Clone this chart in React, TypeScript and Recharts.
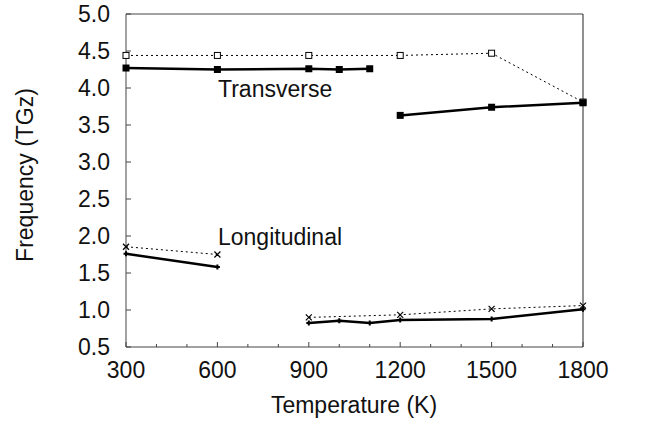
import React from "react";
import { Line, LineChart, XAxis, YAxis } from "recharts";

// temperatures (K) and frequencies (TGz)
const transverseUpperT = [300, 600, 900, 1200, 1500, 1800];
const transverseUpperF = [4.44, 4.44, 4.44, 4.44, 4.47, 3.81];

const transverseLowT1 = [300, 600, 900, 1000, 1100];
const transverseLowF1 = [4.27, 4.25, 4.26, 4.25, 4.26];
const transverseLowT2 = [1200, 1500, 1800];
const transverseLowF2 = [3.63, 3.74, 3.8];

const longUpperT1 = [300, 600];
const longUpperF1 = [1.855, 1.75];
const longUpperT2 = [900, 1200, 1500, 1800];
const longUpperF2 = [0.9, 0.935, 1.015, 1.06];

const longLowT1 = [300, 600];
const longLowF1 = [1.76, 1.58];
const longLowT2 = [900, 1000, 1100, 1200, 1500, 1800];
const longLowF2 = [0.825, 0.855, 0.825, 0.865, 0.88, 1.01];

const xTicks = [300, 400, 500, 600, 700, 800, 900, 1000, 1100, 1200, 1300, 1400, 1500, 1600, 1700, 1800];
const yTicks = [0.5, 1.0, 1.5, 2.0, 2.5, 3.0, 3.5, 4.0, 4.5, 5.0];

const W = 646;
const H = 424;
const FONT = "'Liberation Sans', Arial, sans-serif";
const FS = 23;
const AXIS = "#444";

const zip = (t: number[], f: number[]) => t.map((v, i) => ({ t: v, f: f[i] }));

const OpenSquare = (p: any) => (
  <rect key={`os-${p.index}`} x={p.cx - 3} y={p.cy - 3} width={6} height={6} fill="#fff" stroke="#000" strokeWidth={1} />
);
const FilledSquare = (p: any) => (
  <rect key={`fs-${p.index}`} x={p.cx - 3.5} y={p.cy - 3.5} width={7} height={7} fill="#000" />
);
const Cross = (p: any) => (
  <path key={`cr-${p.index}`} d={`M${p.cx - 3},${p.cy - 3}L${p.cx + 3},${p.cy + 3}M${p.cx - 3},${p.cy + 3}L${p.cx + 3},${p.cy - 3}`} stroke="#000" strokeWidth={1.2} />
);
const Plus = (p: any) => (
  <path key={`pl-${p.index}`} d={`M${p.cx - 2.5},${p.cy}L${p.cx + 2.5},${p.cy}M${p.cx},${p.cy - 2.5}L${p.cx},${p.cy + 2.5}`} stroke="#000" strokeWidth={2} />
);

const BottomTick = (props: any) => {
  const { x, y, payload } = props;
  const major = payload.value % 300 === 0;
  return (
    <g>
      <line x1={x} y1={y} x2={x} y2={y - (major ? 5 : 3)} stroke={AXIS} />
      {major && (
        <text x={x} y={y + 15} dy="0.71em" textAnchor="middle" fontFamily={FONT} fontSize={FS} fill="#111">
          {payload.value}
        </text>
      )}
    </g>
  );
};

const TopTick = (props: any) => {
  const { x, y, payload } = props;
  const major = payload.value % 300 === 0;
  return <line x1={x} y1={y} x2={x} y2={y + (major ? 5 : 3)} stroke={AXIS} />;
};

const LeftTick = (props: any) => {
  const { x, y, payload } = props;
  return (
    <g>
      <line x1={x} y1={y} x2={x + 5} y2={y} stroke={AXIS} />
      <text x={x - 16} y={y} dy="0.36em" textAnchor="end" fontFamily={FONT} fontSize={FS} fill="#111">
        {Number(payload.value).toFixed(1)}
      </text>
    </g>
  );
};

const RightTick = (props: any) => {
  const { x, y } = props;
  return <line x1={x} y1={y} x2={x - 5} y2={y} stroke={AXIS} />;
};

const label: React.CSSProperties = {
  position: "absolute",
  fontFamily: FONT,
  fontSize: FS,
  color: "#111",
  whiteSpace: "nowrap",
  lineHeight: 1,
};

export default function App() {
  return (
    <div style={{ position: "absolute", left: 0, top: 0, width: W, height: H, background: "#fff" }}>
      <LineChart width={W} height={H} margin={{ top: 4, right: 53, bottom: 47, left: 66 }}>
        <XAxis
          xAxisId="b"
          type="number"
          dataKey="t"
          domain={[300, 1800]}
          ticks={xTicks}
          interval={0}
          height={30}
          tickSize={0}
          tickMargin={0}
          tickLine={false}
          stroke={AXIS}
          tick={<BottomTick />}
        />
        <XAxis
          xAxisId="top"
          orientation="top"
          type="number"
          dataKey="t"
          domain={[300, 1800]}
          ticks={xTicks}
          interval={0}
          height={10}
          tickSize={0}
          tickMargin={0}
          tickLine={false}
          stroke={AXIS}
          tick={<TopTick />}
        />
        <YAxis
          yAxisId="l"
          type="number"
          domain={[0.5, 5]}
          ticks={yTicks}
          interval={0}
          width={60}
          tickSize={0}
          tickMargin={0}
          tickLine={false}
          stroke={AXIS}
          tick={<LeftTick />}
        />
        <YAxis
          yAxisId="r"
          orientation="right"
          type="number"
          domain={[0.5, 5]}
          ticks={yTicks}
          interval={0}
          width={10}
          tickSize={0}
          tickMargin={0}
          tickLine={false}
          stroke="#222"
          tick={<RightTick />}
        />
        {/* dotted upper branches */}
        <Line xAxisId="b" yAxisId="l" data={zip(transverseUpperT, transverseUpperF)} dataKey="f" stroke="#000" strokeWidth={1} strokeDasharray="2 3" dot={OpenSquare} isAnimationActive={false} />
        <Line xAxisId="b" yAxisId="l" data={zip(longUpperT1, longUpperF1)} dataKey="f" stroke="#000" strokeWidth={1} strokeDasharray="2 3" dot={Cross} isAnimationActive={false} />
        <Line xAxisId="b" yAxisId="l" data={zip(longUpperT2, longUpperF2)} dataKey="f" stroke="#000" strokeWidth={1} strokeDasharray="2 3" dot={Cross} isAnimationActive={false} />
        {/* solid lower branches */}
        <Line xAxisId="b" yAxisId="l" data={zip(transverseLowT1, transverseLowF1)} dataKey="f" stroke="#000" strokeWidth={2.5} dot={FilledSquare} isAnimationActive={false} />
        <Line xAxisId="b" yAxisId="l" data={zip(transverseLowT2, transverseLowF2)} dataKey="f" stroke="#000" strokeWidth={2.5} dot={FilledSquare} isAnimationActive={false} />
        <Line xAxisId="b" yAxisId="l" data={zip(longLowT1, longLowF1)} dataKey="f" stroke="#000" strokeWidth={2.5} dot={Plus} isAnimationActive={false} />
        <Line xAxisId="b" yAxisId="l" data={zip(longLowT2, longLowF2)} dataKey="f" stroke="#000" strokeWidth={2.5} dot={Plus} isAnimationActive={false} />
      </LineChart>
      <div style={{ ...label, left: 218, top: 78 }}>Transverse</div>
      <div style={{ ...label, left: 218, top: 226 }}>Longitudinal</div>
      <div style={{ ...label, left: 354, top: 394, transform: "translateX(-50%)" }}>Temperature (K)</div>
      <div style={{ ...label, left: 25, top: 175, transform: "translate(-50%, -50%) rotate(-90deg)" }}>Frequency (TGz)</div>
    </div>
  );
}
